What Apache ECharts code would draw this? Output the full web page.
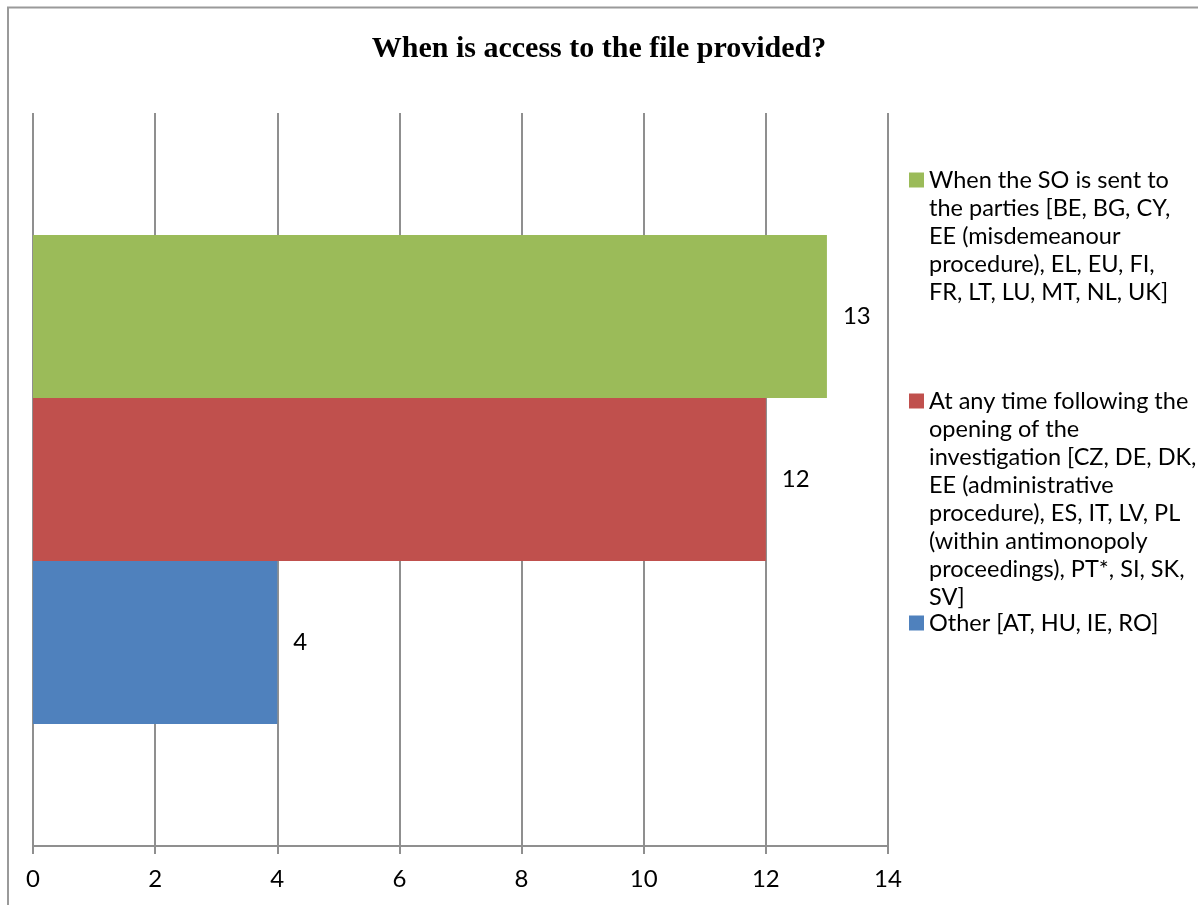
<!DOCTYPE html>
<html>
<head>
<meta charset="utf-8">
<script src="https://cdn.jsdelivr.net/npm/echarts@6/dist/echarts.min.js"></script>
<style>
  html, body { margin: 0; padding: 0; background: #fff; }
  #chart { width: 1198px; height: 905px; }
</style>
</head>
<body>
<div id="chart"></div>
<script>
// Chart content
const titleText = 'When is access to the file provided?';
const categories = ['Access'];
const seriesNames = [
  'When the SO is sent to\nthe parties [BE, BG, CY,\nEE (misdemeanour\nprocedure), EL, EU, FI,\nFR, LT, LU, MT, NL, UK]',
  'At any time following the\nopening of the\ninvestigation [CZ, DE, DK,\nEE (administrative\nprocedure), ES, IT, LV, PL\n(within antimonopoly\nproceedings), PT*, SI, SK,\nSV]',
  'Other [AT, HU, IE, RO]'
];
const soSentValues = [13];
const anyTimeValues = [12];
const otherValues = [4];
const seriesValues = [soSentValues, anyTimeValues, otherValues];
const seriesColors = ['#9BBB59', '#C0504D', '#4F81BD'];
const xTicks = { min: 0, max: 14, interval: 2 };

const FONT = 'Lato, "Open Sans", sans-serif';
const LINE_H = 28;
const legendTops = [54, 191, 609];
const gridColor = '#8f8f8f';

const chart = echarts.init(document.getElementById('chart'), null, { renderer: 'canvas' });

// One legend block per series so each entry can sit at its own height.
// Rich-text layout honours top padding, which keeps the colour square
// level with the first line of a wrapped label.
const legends = seriesNames.map(function (name, i) {
  const lines = name.split('\n').length;
  return {
    data: [name],
    left: 909,
    top: legendTops[i],
    padding: 0,
    icon: 'rect',
    itemWidth: 15,
    itemHeight: 15,
    itemGap: 0,
    selectedMode: false,
    textStyle: {
      fontFamily: FONT,
      fontSize: 23.5,
      color: '#000',
      lineHeight: LINE_H,
      padding: [LINE_H * (lines - 1), 0, 0, 0],
      rich: { plain: { fontFamily: FONT, fontSize: 23.5, lineHeight: LINE_H } }
    }
  };
});

const series = seriesNames.map(function (name, i) {
  return {
    name: name,
    type: 'bar',
    data: seriesValues[i],
    barGap: '0%',
    barCategoryGap: '33.3%',
    itemStyle: { color: seriesColors[i] },
    label: {
      show: true,
      position: 'right',
      distance: 16,
      fontFamily: FONT,
      fontSize: 24,
      color: '#000'
    },
    emphasis: { disabled: true }
  };
});

chart.setOption({
  animation: false,
  backgroundColor: '#fff',
  title: {
    text: titleText,
    left: 'center',
    top: 29,
    textStyle: {
      fontFamily: '"Liberation Serif", "Times New Roman", serif',
      fontWeight: 'bold',
      fontSize: 30,
      color: '#000'
    }
  },
  graphic: [{
    type: 'rect',
    shape: { x: 8, y: 7.5, width: 1400, height: 1200 },
    style: { fill: 'none', stroke: '#9a9a9a', lineWidth: 2 },
    silent: true,
    z: -1
  }],
  legend: legends,
  grid: { left: 33, right: 310, top: 113, bottom: 59, containLabel: false },
  xAxis: {
    type: 'value',
    min: xTicks.min,
    max: xTicks.max,
    interval: xTicks.interval,
    axisLine: { show: true, lineStyle: { color: gridColor, width: 2 } },
    axisTick: { show: true, length: 8, lineStyle: { color: gridColor, width: 2 } },
    splitLine: { show: true, lineStyle: { color: gridColor, width: 2 } },
    axisLabel: { fontFamily: FONT, fontSize: 24, color: '#000', margin: 21 }
  },
  yAxis: {
    type: 'category',
    data: categories,
    axisLine: { show: false },
    axisTick: { show: false },
    axisLabel: { show: false },
    splitLine: { show: false }
  },
  series: series
});
</script>
</body>
</html>
